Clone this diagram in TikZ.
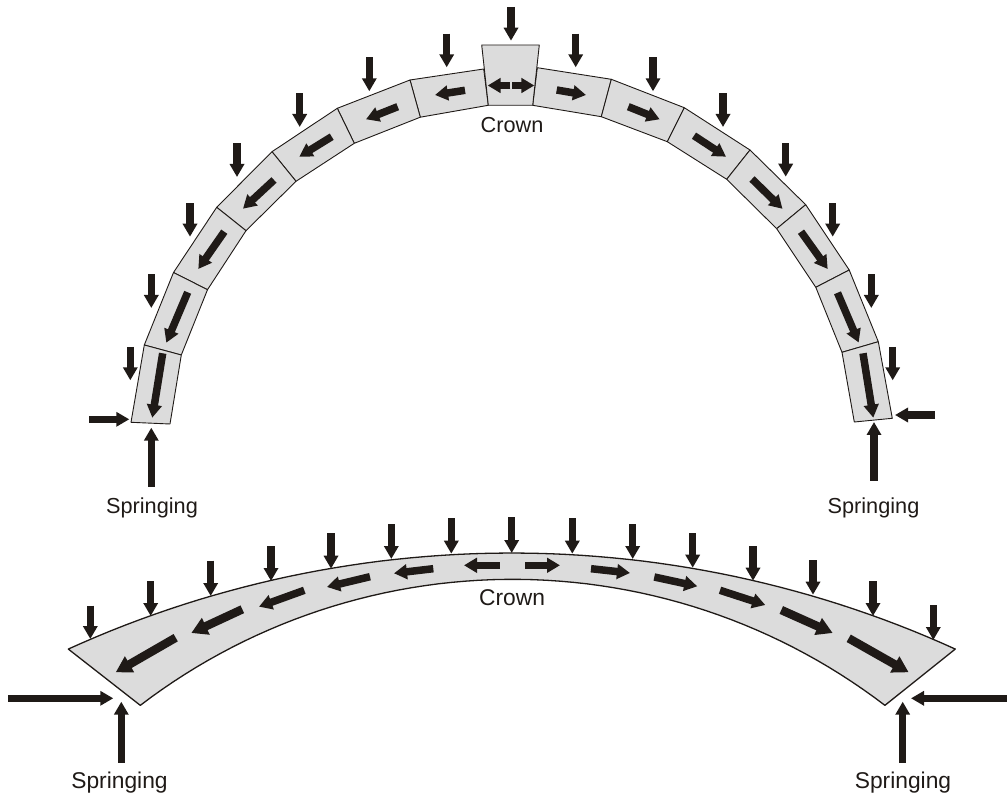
\documentclass[tikz,border=0pt]{standalone}
\usepackage{fontspec}
\setmainfont{Liberation Sans}
\usetikzlibrary{arrows.meta}
\definecolor{ink}{HTML}{1F1A17}
\definecolor{stonegray}{HTML}{DCDCDC}
\tikzset{
  stone/.style={draw=ink,fill=stonegray,line width=0.9pt,line join=round},
  rib/.style={draw=ink,fill=stonegray,line width=1.3pt,line join=round},
  force/.style={draw=ink,line width=7.5pt,-{Triangle[length=13pt,width=14pt]}},
  thrust/.style={draw=ink,line width=7.5pt,-{Triangle[length=13pt,width=14.5pt]}},
  bigthrust/.style={draw=ink,line width=8.5pt,-{Triangle[length=16pt,width=17.5pt]}},
  lab/.style={font=\fontsize{21.7}{24}\selectfont,text=ink,anchor=base,inner sep=0pt},
  biglab/.style={font=\fontsize{22.8}{25}\selectfont,text=ink,anchor=base,inner sep=0pt}
}
\begin{document}
\begin{tikzpicture}[x=1pt,y=-1pt]
\useasboundingbox (0,0) rectangle (1007,799);
% upper arch: voussoirs
\foreach \a/\b/\c/\d/\e/\f/\g/\h in {
 410/80/483.7/69/488.3/105.3/420.3/117.2,
 337.3/108.3/410/80/420.3/117.2/354.3/143.3,
 272/151.7/337.3/108.3/354.3/143.3/296/181.3,
 216.7/207.3/272/151.7/296/181.3/246/230.7,
 173.5/272.5/216.7/207.3/246/230.7/207.5/289.7,
 144.3/345/173.5/272.5/207.5/289.7/181.3/355,
 131/422.3/144.3/345/181.3/355/170/424,
 537.3/67.7/611.3/79.3/601.3/116.7/532.7/105.3,
 611.3/79.3/684.3/107.7/667.3/141.7/601.3/116.7,
 684.3/107.7/750/150/726.7/179.3/667.3/141.7,
 750/150/805.7/204.7/776.7/228.7/726.7/179.3,
 805.7/204.7/849.2/270/815.8/287.3/776.7/228.7,
 849.2/270/878.3/341.7/842/352.3/815.8/287.3,
 878.3/341.7/892.3/418.3/854.3/422/842/352.3,
 481.7/45/539.3/45/532.7/105.3/488.3/105.3}
  {\draw[stone] (\a,\b) -- (\c,\d) -- (\e,\f) -- (\g,\h) -- cycle;}
% upper arch: loads
\foreach \x/\p/\q in {
 511/7/40.7, 575.7/33.7/67.3, 653/57.3/91.3, 723/93.3/127, 785.7/143.3/176.7,
 832.7/203.3/236.7, 871.3/274.3/308, 892.7/347/380.3,
 446.7/33.7/67.3, 369.3/57.3/91.3, 299.7/93.3/127, 237/143.3/177,
 190/203.3/236.7, 151.3/274.3/308, 130.3/347/380.3}
  {\draw[force] (\x,\p) -- (\x,\q);}
% upper arch: thrust lines
\foreach \a/\b/\c/\d in {
 510.3/85.5/487.7/85.5, 512/85.5/534.3/85.5,
 465/90.3/435/95, 397.7/106.7/366/119.3, 331.7/136.7/299.3/156.7,
 274/180/243/208.7, 224.3/231.7/198.3/269, 187.7/292.3/166.3/342.7, 162.7/353.3/152.3/417.7,
 556.7/90/586/95, 628.3/106.7/659.7/119.3, 694/135.7/726/156.7,
 752/179/782.5/208.8, 801/231.7/827.7/269, 837.5/292.8/858.7/342.5, 863/353.3/873.3/417.7}
  {\draw[thrust] (\a,\b) -- (\c,\d);}
% upper arch: reactions
\draw[force] (89.3,419.3) -- (129.3,419.3);
\draw[force] (151.3,486.7) -- (151.3,427.7);
\draw[force] (935,415) -- (895,415);
\draw[force] (874,480.7) -- (874,422);
\node[lab] (crownA) at (512,133) {Crown};
\node[lab] (springA) at (152,513.3) {Springing};
\node[lab] (springB) at (873.5,513.3) {Springing};
% lower arch: rib
\draw[rib] plot[domain=-24.43:24.43,samples=60] ({511.8+1072.4*sin(\x)},{1625.4-1072.4*cos(\x)})
  -- plot[domain=37.4:-37.4,samples=60] ({512.6+613*sin(\x)},{1192.3-613*cos(\x)}) -- cycle;
% lower arch: loads
\foreach \x/\p/\q in {
 90.3/605.7/639, 150.7/581.3/616, 210.7/560.5/596, 271/546/581, 331/533/568.7,
 391.3/524/559, 451.3/518.3/553.7, 511.7/517.3/553, 572.3/518.3/553.7,
 632.7/524/559, 692.7/533/567.7, 753/546/580.7, 813/560/594.7, 873/581.3/616, 933.3/605.3/640}
  {\draw[force] (\x,\p) -- (\x,\q);}
% lower arch: thrust lines
\foreach \a/\b/\c/\d in {
 304.3/590.3/259/606.7,
 370/576.7/327/587, 433.3/568.7/394/573.3, 499.7/565.3/464/565.3,
 525/565.3/560/565.3, 591/568.7/630/573, 654.3/577/697.3/586.3,
 720/590.3/765.3/605}
  {\draw[thrust] (\a,\b) -- (\c,\d);}
\foreach \a/\b/\c/\d in {
 175.7/637.7/115.7/672.3, 242.3/609.3/191.3/633,
 781.3/610/832.7/633, 848.7/638.3/908.7/672.3}
  {\draw[bigthrust] (\a,\b) -- (\c,\d);}
% lower arch: reactions
\draw[force] (8,698.3) -- (113.3,698.3);
\draw[force] (121.3,762.7) -- (121.3,701.7);
\draw[force] (1007,698.3) -- (911,698.3);
\draw[force] (902.7,762.7) -- (902.7,701.7);
\node[biglab] (crownB) at (512,605) {Crown};
\node[biglab] (springC) at (119.5,788.3) {Springing};
\node[biglab] (springD) at (903,788.3) {Springing};
\end{tikzpicture}
\end{document}
